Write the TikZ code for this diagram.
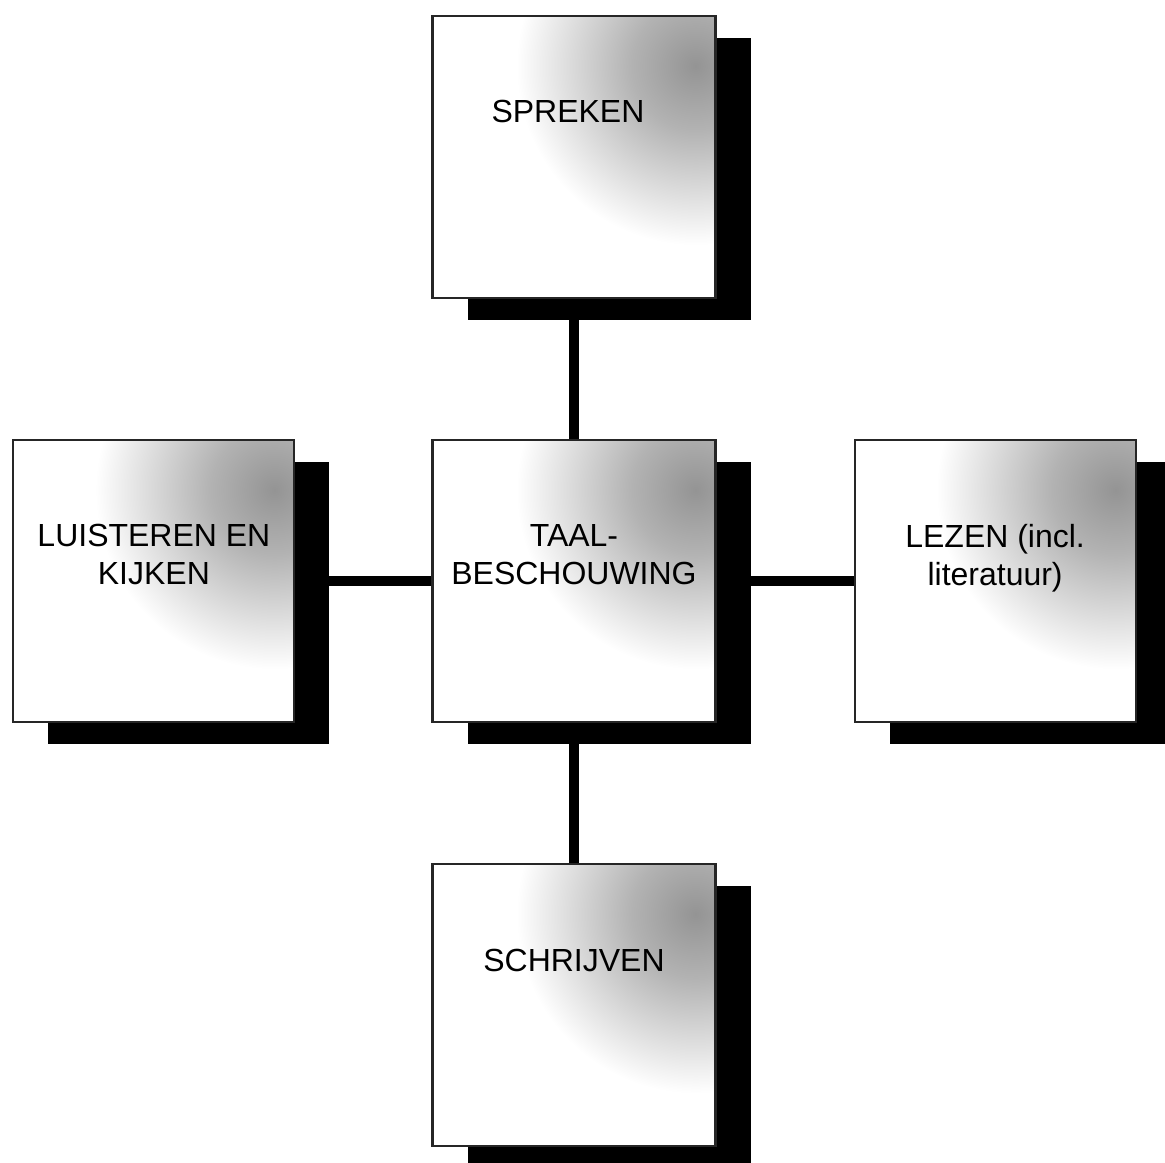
\documentclass[tikz,border=0pt]{standalone}
\usepackage{fontspec}
\setmainfont{Liberation Sans}
\usetikzlibrary{positioning,shadows}

\pgfdeclareradialshading{greyspot}{\pgfpointorigin}{color(0bp)=(black!42);
  color(5bp)=(black!30); color(14bp)=(white); color(50bp)=(white)}

\begin{document}
\begin{tikzpicture}[-,auto,node distance=1.4cm,
  box node/.style={rectangle,draw=black!85,line width=0.6pt,fill=white,
        minimum width=2.83cm,minimum height=2.82cm,inner sep=0pt,
        drop shadow={shadow xshift=0.35cm,shadow yshift=-0.22cm,fill=black,opacity=1},
        path picture={\shade[shading=greyspot]
          ([xshift=-0.2cm,yshift=-0.5cm]path picture bounding box.north east)
          +(-3.2cm,-3.2cm) rectangle +(3.2cm,3.2cm);}},
  side node/.style={box node,minimum width=2.81cm},
  text node/.style={anchor=north,align=center,inner sep=0pt,
        font=\fontsize{9.1pt}{10.8pt}\selectfont},
  link/.style={line width=2.8pt}]
  \useasboundingbox (0,0) rectangle (11.65,-11.63);

  \node[box node] (taal) at (5.74,-5.81) {};
  \node[box node] (spreken) [above=of taal] {};
  \node[side node] (luisteren) [left=1.36cm of taal] {};
  \node[side node] (lezen) [right=1.37cm of taal] {};
  \node[box node] (schrijven) [below=of taal] {};

  \path[link]
    (spreken) edge (taal)
    (luisteren) edge (taal)
    (taal) edge (lezen)
    (taal) edge (schrijven);

  \node[text node] (spreken-t) at ([xshift=-0.06cm,yshift=-0.85cm]spreken.north) {SPREKEN};
  \node[text node] (taal-t) at ([yshift=-0.85cm]taal.north) {TAAL-\\BESCHOUWING};
  \node[text node] (luisteren-t) at ([yshift=-0.85cm]luisteren.north) {LUISTEREN EN\\KIJKEN};
  \node[text node] (lezen-t) at ([yshift=-0.85cm]lezen.north) {LEZEN (incl.\\literatuur)};
  \node[text node] (schrijven-t) at ([yshift=-0.85cm]schrijven.north) {SCHRIJVEN};
\end{tikzpicture}
\end{document}
